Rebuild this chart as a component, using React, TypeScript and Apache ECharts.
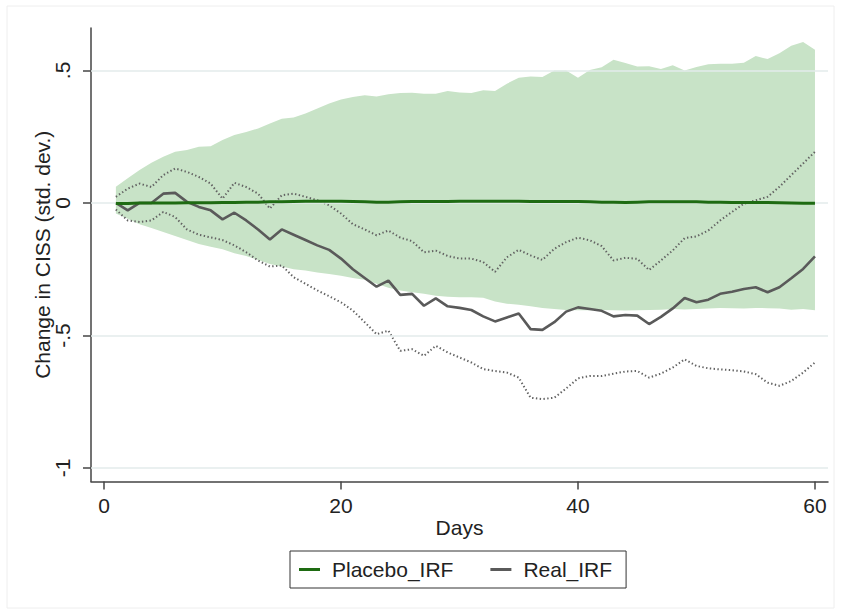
import React, { useEffect, useRef } from "react";
import * as echarts from "echarts";

const days = [1,2,3,4,5,6,7,8,9,10,11,12,13,14,15,16,17,18,19,20,21,22,23,24,25,26,27,28,29,30,31,32,33,34,35,36,37,38,39,40,41,42,43,44,45,46,47,48,49,50,51,52,53,54,55,56,57,58,59,60];

const placeboIRF = [-0.002,-0.002,0,0,0,0,0.001,0.001,0.001,0.002,0.002,0.003,0.003,0.004,0.004,0.005,0.006,0.006,0.006,0.006,0.005,0.004,0.003,0.003,0.004,0.005,0.005,0.005,0.005,0.006,0.006,0.006,0.006,0.006,0.006,0.005,0.005,0.005,0.005,0.005,0.004,0.003,0.003,0.002,0.003,0.004,0.004,0.004,0.004,0.004,0.003,0.003,0.002,0.002,0.002,0.002,0.001,0,-0.001,-0.001];

const placeboUpper = [0.061,0.093,0.124,0.152,0.174,0.193,0.2,0.212,0.214,0.237,0.256,0.268,0.281,0.3,0.318,0.322,0.337,0.356,0.375,0.39,0.4,0.406,0.402,0.41,0.415,0.416,0.412,0.412,0.422,0.417,0.415,0.425,0.422,0.45,0.472,0.477,0.475,0.5,0.5,0.472,0.502,0.512,0.54,0.528,0.515,0.516,0.505,0.519,0.5,0.513,0.523,0.525,0.525,0.529,0.554,0.543,0.565,0.593,0.607,0.578];

const placeboLower = [-0.04,-0.06,-0.08,-0.095,-0.11,-0.125,-0.14,-0.155,-0.165,-0.175,-0.19,-0.2,-0.215,-0.23,-0.24,-0.25,-0.255,-0.262,-0.268,-0.275,-0.283,-0.29,-0.305,-0.32,-0.33,-0.337,-0.343,-0.35,-0.354,-0.356,-0.356,-0.358,-0.372,-0.38,-0.384,-0.39,-0.396,-0.4,-0.404,-0.405,-0.405,-0.404,-0.405,-0.406,-0.405,-0.404,-0.403,-0.4,-0.402,-0.4,-0.398,-0.396,-0.397,-0.398,-0.396,-0.397,-0.398,-0.403,-0.4,-0.405];

const realIRF = [0,-0.028,0,0,0.035,0.038,0.004,-0.015,-0.028,-0.062,-0.037,-0.066,-0.1,-0.138,-0.1,-0.12,-0.14,-0.16,-0.177,-0.21,-0.25,-0.283,-0.316,-0.293,-0.347,-0.343,-0.388,-0.36,-0.39,-0.396,-0.404,-0.428,-0.447,-0.432,-0.417,-0.476,-0.479,-0.45,-0.41,-0.394,-0.4,-0.407,-0.428,-0.423,-0.425,-0.457,-0.43,-0.398,-0.359,-0.375,-0.365,-0.343,-0.335,-0.325,-0.318,-0.337,-0.318,-0.284,-0.249,-0.202];

const realUpper = [0.023,0.054,0.073,0.06,0.105,0.13,0.117,0.098,0.073,0.016,0.076,0.06,0.035,-0.021,0.029,0.035,0.023,0.01,-0.009,-0.04,-0.08,-0.1,-0.122,-0.104,-0.131,-0.144,-0.186,-0.18,-0.2,-0.21,-0.21,-0.223,-0.26,-0.205,-0.177,-0.198,-0.215,-0.173,-0.148,-0.131,-0.141,-0.163,-0.217,-0.207,-0.211,-0.253,-0.217,-0.179,-0.133,-0.126,-0.104,-0.066,-0.034,-0.003,0.01,0.023,0.061,0.105,0.149,0.193];

const realLower = [-0.025,-0.066,-0.072,-0.066,-0.034,-0.053,-0.1,-0.12,-0.13,-0.14,-0.16,-0.186,-0.217,-0.24,-0.236,-0.28,-0.305,-0.33,-0.352,-0.375,-0.406,-0.45,-0.495,-0.482,-0.558,-0.552,-0.577,-0.539,-0.564,-0.583,-0.602,-0.627,-0.634,-0.64,-0.659,-0.735,-0.74,-0.735,-0.7,-0.662,-0.653,-0.653,-0.644,-0.636,-0.634,-0.659,-0.644,-0.621,-0.59,-0.615,-0.624,-0.628,-0.631,-0.636,-0.646,-0.678,-0.69,-0.672,-0.64,-0.602];

const xTicks = [0, 20, 40, 60];
const yTicks = [-1, -0.5, 0, 0.5];

const FONT = "'Liberation Sans', Arial, Helvetica, sans-serif";
const FS = 21;
const GREEN = "#1e6b12";
const GREY = "#5a5a5a";
const DOT = "#626262";
const BAND = "#c8e3c7";

export default function App() {
  const ref = useRef<HTMLDivElement>(null);
  useEffect(() => {
    if (!ref.current) return;
    const chart = echarts.init(ref.current, null, { renderer: "svg" });
    const pair = (arr: number[]) => days.map((d, i) => [d, arr[i]]);
    const fmt = (v: number) => (v === 0 ? "0" : String(v).replace("0.", "."));
    const option: any = {
      animation: false,
      backgroundColor: "#ffffff",
      graphic: [
        {
          type: "rect",
          shape: { x: 7, y: 6, width: 827, height: 602 },
          style: { fill: "none", stroke: "#eeeeee", lineWidth: 1 },
          silent: true,
          z: -1,
        },
      ],
      grid: { left: 91, right: 13, top: 28, bottom: 132.5, containLabel: false },
      legend: {
        left: 290,
        top: 551,
        orient: "horizontal",
        data: [
          { name: "Placebo_IRF", icon: "rect" },
          { name: "Real_IRF", icon: "rect" },
        ],
        itemWidth: 21,
        itemHeight: 3,
        itemGap: 37,
        padding: [8, 14, 8, 9],
        borderColor: "#333",
        borderWidth: 1,
        textStyle: { fontSize: FS, color: "#222", fontFamily: FONT, padding: [0, 0, 0, 7] },
      },
      xAxis: {
        type: "value",
        min: -1.1,
        max: 61.1,
        axisLine: { show: true, onZero: false, lineStyle: { color: "#444", width: 1.5 } },
        axisTick: { show: true, customValues: xTicks, length: 8, lineStyle: { color: "#444", width: 1.5 } },
        axisLabel: { customValues: xTicks, fontSize: FS, color: "#222", fontFamily: FONT, margin: 13 },
        splitLine: { show: false },
        name: "Days",
        nameLocation: "middle",
        nameGap: 35,
        nameMoveOverlap: false,
        nameTextStyle: { fontSize: FS, color: "#222", fontFamily: FONT },
      },
      yAxis: {
        type: "value",
        min: -1.051,
        max: 0.66,
        axisLine: { show: true, onZero: false, lineStyle: { color: "#444", width: 1.5 } },
        axisTick: { show: true, customValues: yTicks, length: 8, lineStyle: { color: "#444", width: 1.5 } },
        axisLabel: {
          customValues: yTicks,
          rotate: 90,
          fontSize: FS,
          color: "#222",
          fontFamily: FONT,
          margin: 18,
          formatter: fmt,
        },
        splitLine: { show: false },
        name: "Change in CISS (std. dev.)",
        nameLocation: "middle",
        nameGap: 38,
        nameRotate: 90,
        nameMoveOverlap: false,
        nameTextStyle: { fontSize: FS, color: "#222", fontFamily: FONT },
      },
      series: [
        {
          name: "grid",
          type: "line",
          data: [],
          z: 0,
          silent: true,
          markLine: {
            silent: true,
            symbol: "none",
            label: { show: false },
            lineStyle: { color: "#e3ebeb", width: 1.5, type: "solid" },
            data: yTicks.map((v) => ({ yAxis: v })),
          },
        },
        {
          name: "band",
          type: "custom",
          z: 1,
          silent: true,
          data: days.map((d, i) => [d, placeboLower[i], placeboUpper[i]]),
          encode: { x: 0, y: [1, 2] },
          renderItem: (params: any, api: any) => {
            if (params.dataIndex !== 0) return null;
            const pts: number[][] = [];
            for (let i = 0; i < days.length; i++) pts.push(api.coord([days[i], placeboUpper[i]]));
            for (let i = days.length - 1; i >= 0; i--) pts.push(api.coord([days[i], placeboLower[i]]));
            return {
              type: "polygon",
              shape: { points: pts },
              style: { fill: BAND, stroke: "none" },
              silent: true,
            };
          },
        },
        {
          name: "Real_upper",
          type: "line",
          data: pair(realUpper),
          showSymbol: false,
          lineStyle: { color: DOT, width: 2, type: [1.4, 2.4] },
          z: 3,
        },
        {
          name: "Real_lower",
          type: "line",
          data: pair(realLower),
          showSymbol: false,
          lineStyle: { color: DOT, width: 2, type: [1.4, 2.4] },
          z: 3,
        },
        {
          name: "Real_IRF",
          type: "line",
          data: pair(realIRF),
          showSymbol: false,
          color: GREY,
          lineStyle: { color: GREY, width: 2.6 },
          z: 4,
        },
        {
          name: "Placebo_IRF",
          type: "line",
          data: pair(placeboIRF),
          showSymbol: false,
          color: GREEN,
          lineStyle: { color: GREEN, width: 3 },
          z: 5,
        },
      ],
    };
    chart.setOption(option);
    return () => chart.dispose();
  }, []);
  return (
    <div
      ref={ref}
      style={{ position: "fixed", left: 0, top: 0, width: 841, height: 614, background: "#fff" }}
    />
  );
}
